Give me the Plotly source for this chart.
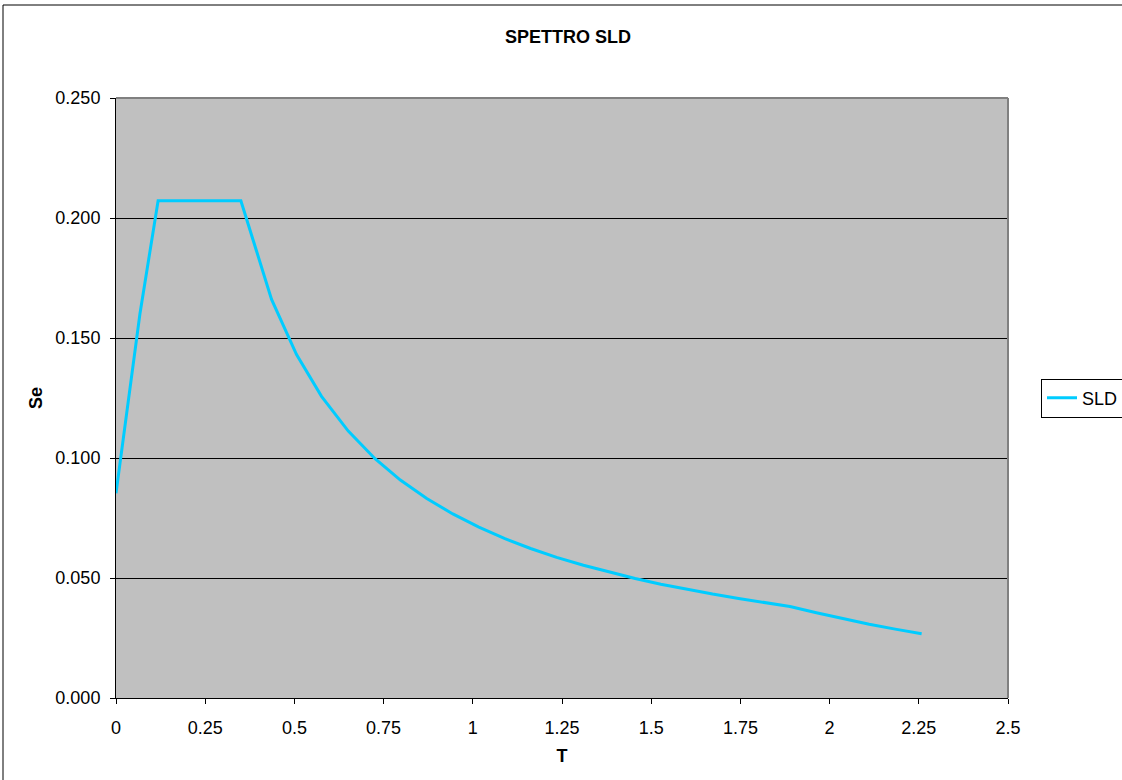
import plotly.graph_objects as go

# Data
T = [0.0, 0.067, 0.118, 0.350, 0.436, 0.506, 0.576, 0.651, 0.726, 0.797, 0.871,
     0.944, 1.017, 1.090, 1.162, 1.235, 1.310, 1.385, 1.455, 1.527, 1.600,
     1.672, 1.745, 1.817, 1.889, 1.963, 2.037, 2.111, 2.184, 2.258]
Se = [0.0853, 0.1600, 0.2072, 0.2072, 0.1661, 0.1431, 0.1257, 0.1112, 0.0997, 0.0908, 0.0831,
      0.0767, 0.0712, 0.0664, 0.0623, 0.0586, 0.0553, 0.0523, 0.0498, 0.0474, 0.0453,
      0.0433, 0.0415, 0.0398, 0.0381, 0.0355, 0.0330, 0.0307, 0.0287, 0.0268]
x_ticks = [0, 0.25, 0.5, 0.75, 1, 1.25, 1.5, 1.75, 2, 2.25, 2.5]
x_tick_labels = ["0", "0.25", "0.5", "0.75", "1", "1.25", "1.5", "1.75", "2", "2.25", "2.5"]
y_ticks = [0, 0.05, 0.10, 0.15, 0.20, 0.25]
y_tick_labels = ["0.000", "0.050", "0.100", "0.150", "0.200", "0.250"]

FONT = "Liberation Sans, Arial, sans-serif"
W, H = 1122, 780
L, R, TOP, B = 116, 114, 98, 82
PW, PH = W - L - R, H - TOP - B

fig = go.Figure()
fig.add_trace(go.Scatter(x=T, y=Se, mode="lines", name="SLD",
                         line=dict(color="#00CCFF", width=3)))

fig.update_layout(
    width=W, height=H,
    margin=dict(l=L, r=R, t=TOP, b=B, autoexpand=False),
    paper_bgcolor="white",
    plot_bgcolor="#C0C0C0",
    font=dict(family=FONT, size=18, color="black"),
    title=dict(text="<b>SPETTRO SLD</b>", x=(568 - L) / PW, xref="paper", xanchor="center",
               y=1 - 37 / H, yanchor="middle", font=dict(size=18)),
    showlegend=True,
    legend=dict(xref="container", yref="container", x=1041 / W, y=1 - 398 / H,
                xanchor="left", yanchor="middle",
                bordercolor="black", borderwidth=1, bgcolor="white",
                font=dict(size=18), itemwidth=30, tracegroupgap=0),
    xaxis=dict(range=[0, 2.5], tickvals=x_ticks, ticktext=x_tick_labels,
               showgrid=False, zeroline=False, showline=True, linecolor="black",
               linewidth=1, ticks="outside", ticklen=5, tickcolor="black",
               ticklabelstandoff=8,
               title=dict(text="<b>T</b>", standoff=12, font=dict(size=18)),
               tickfont=dict(size=18)),
    yaxis=dict(range=[0, 0.25], tickvals=y_ticks, ticktext=y_tick_labels,
               showgrid=True, gridcolor="black", gridwidth=1, zeroline=False,
               showline=True, linecolor="black", linewidth=1,
               ticks="outside", ticklen=5, tickcolor="black",
               ticklabelstandoff=6,
               title=dict(text="<b>Se</b>", standoff=8, font=dict(size=18)),
               tickfont=dict(size=18)),
    shapes=[
        # plot-area border (top and right gray)
        dict(type="line", xref="paper", yref="paper", x0=0, x1=1, y0=1, y1=1,
             line=dict(color="#808080", width=2)),
        dict(type="line", xref="paper", yref="paper", x0=1, x1=1, y0=0, y1=1,
             line=dict(color="#808080", width=2)),
        # outer chart border (only left and top edges fall inside the picture)
        dict(type="line", xref="paper", yref="paper",
             x0=(3 - L) / PW, x1=(3 - L) / PW, y0=-0.5, y1=(698 - 5) / PH,
             line=dict(color="black", width=1), layer="below"),
        dict(type="line", xref="paper", yref="paper",
             x0=(3 - L) / PW, x1=1.5, y0=(698 - 5) / PH, y1=(698 - 5) / PH,
             line=dict(color="black", width=1), layer="below"),
    ],
)

fig.write_html("out.html", config={"displayModeBar": False},
               post_script="document.body.style.margin='0';")
